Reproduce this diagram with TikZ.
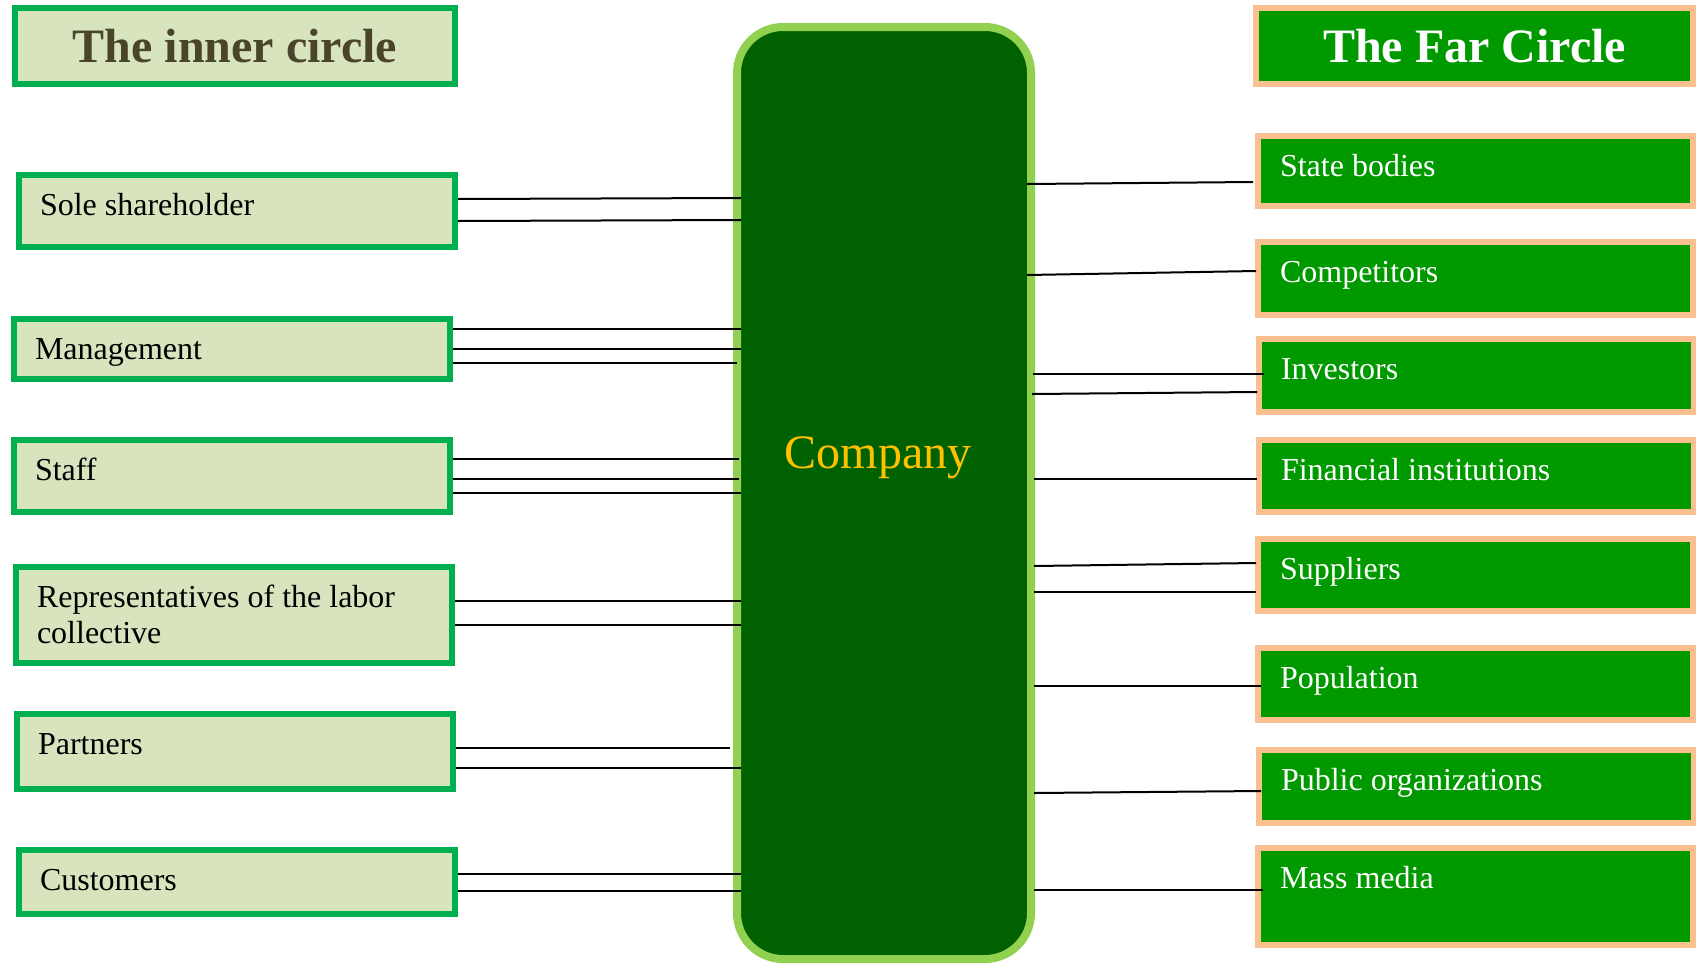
\documentclass[tikz,border=0pt]{standalone}
\usepackage{fontspec}
\setmainfont{Liberation Serif}
\usetikzlibrary{calc}

\definecolor{innerfill}{HTML}{D7E4BD}
\definecolor{innerline}{HTML}{00B050}
\definecolor{innertext}{HTML}{4A452A}
\definecolor{farfill}{HTML}{009900}
\definecolor{farline}{HTML}{FAC090}
\definecolor{coreline}{HTML}{92D050}
\definecolor{corefill}{HTML}{006100}
\definecolor{coretext}{HTML}{FFC000}

\begin{document}
\begin{tikzpicture}[x=0.5pt, y=-0.5pt,
  innerbox/.style={draw=innerline, line width=3pt, fill=innerfill, anchor=north west,
                   text width=197pt, inner xsep=10.5pt, inner ysep=0pt, align=flush left,
                   text height=20pt, text depth=#1, font=\fontsize{16}{18}\selectfont},
  farbox/.style={draw=farline, line width=3pt, fill=farfill, anchor=north west,
                 text width=195.5pt, inner xsep=11pt, inner ysep=0pt, align=flush left,
                 text height=20pt, text depth=#1, text=white,
                 font=\fontsize{16}{18}\selectfont},
  innertitle/.style={draw=innerline, line width=3pt, fill=innerfill, anchor=north west,
                     minimum width=220pt, minimum height=38pt, text=innertext,
                     font=\fontsize{24}{28}\selectfont\bfseries},
  fartitle/.style={draw=farline, line width=3pt, fill=farfill, anchor=north west,
                   minimum width=218.5pt, minimum height=38pt, text=white,
                   font=\fontsize{24}{28}\selectfont\bfseries},
  core/.style={draw=coreline, line width=4pt, fill=corefill, rounded corners=23pt,
               minimum width=147pt, minimum height=466pt, text=coretext,
               text height=17pt, text depth=42pt, font=\fontsize{24}{28}\selectfont},
  link/.style={line width=1pt, black},
]
\useasboundingbox (0,0) rectangle (1696,964);

% --- Centre ---
\node[core] (company) at (884,493) {Company\hspace*{6pt}};

% --- Left column: inner circle ---
\node[innertitle] (innerhead) at (12,5) {The inner circle};
\node[innerbox=16pt] (sole) at (16,172) {Sole shareholder};
\node[innerbox=10pt] (manage) at (11,316) {Management};
\node[innerbox=16pt] (staff) at (11,437) {Staff};
\node[innerbox=28pt] (labor) at (13,564) {Representatives of the labor\\collective};
\node[innerbox=17.5pt] (partners) at (14,711) {Partners};
\node[innerbox=12pt] (customers) at (16,847) {Customers};

% --- Right column: far circle ---
\node[fartitle] (farhead) at (1253,5) {The Far Circle};
\node[farbox=15pt] (state) at (1255,133) {State bodies};
\node[farbox=16.5pt] (rivals) at (1255,239) {Competitors};
\node[farbox=16.5pt] (investors) at (1256,336) {Investors};
\node[farbox=16pt] (finance) at (1256,437) {Financial institutions};
\node[farbox=16pt] (suppliers) at (1255,536) {Suppliers};
\node[farbox=16pt] (people) at (1255,645) {Population};
\node[farbox=16.5pt] (publicorg) at (1256,747) {Public organizations};
\node[farbox=28.5pt] (media) at (1255,845) {Mass media};

% --- Left links ---
\draw[link] ($(sole.east)+(0,-12)$) -- ($(company.west |- sole.east)+(8,-13)$);
\draw[link] ($(sole.east)+(0,10)$) -- ($(company.west |- sole.east)+(8,9)$);
\draw[link] ($(manage.east)+(0,-20)$) -- ($(company.west |- manage.east)+(8,-20)$);
\draw[link] ($(manage.east)+(0,0)$) -- ($(company.west |- manage.east)+(8,0)$);
\draw[link] ($(manage.east)+(0,14)$) -- ($(company.west |- manage.east)+(4,14)$);
\draw[link] ($(staff.east)+(0,-17)$) -- ($(company.west |- staff.east)+(6,-17)$);
\draw[link] ($(staff.east)+(0,3)$) -- ($(company.west |- staff.east)+(6,3)$);
\draw[link] ($(staff.east)+(0,17)$) -- ($(company.west |- staff.east)+(8,17)$);
\draw[link] ($(labor.east)+(0,-14)$) -- ($(company.west |- labor.east)+(8,-14)$);
\draw[link] ($(labor.east)+(0,10)$) -- ($(company.west |- labor.east)+(8,10)$);
\draw[link] ($(partners.east)+(0,-3.5)$) -- ($(company.west |- partners.east)+(-3,-3.5)$);
\draw[link] ($(partners.east)+(0,16.5)$) -- ($(company.west |- partners.east)+(8,16.5)$);
\draw[link] ($(customers.east)+(0,-8)$) -- ($(company.west |- customers.east)+(8,-8)$);
\draw[link] ($(customers.east)+(0,9)$) -- ($(company.west |- customers.east)+(8,9)$);

% --- Right links ---
\draw[link] ($(company.east |- state.west)+(-8,13)$) -- ($(state.west)+(-2,11)$);
\draw[link] ($(company.east |- rivals.west)+(-8,-3.5)$) -- ($(rivals.west)+(1,-7.5)$);
\draw[link] ($(company.east |- investors.west)+(-2,-1.5)$) -- ($(investors.west)+(8,-1.5)$);
\draw[link] ($(company.east |- investors.west)+(-3,18.5)$) -- ($(investors.west)+(1,16.5)$);
\draw[link] ($(company.east |- finance.west)+(-1,3)$) -- ($(finance.west)+(1,3)$);
\draw[link] ($(company.east |- suppliers.west)+(-1,-9)$) -- ($(suppliers.west)+(1,-12)$);
\draw[link] ($(company.east |- suppliers.west)+(-1,17)$) -- ($(suppliers.west)+(1,17)$);
\draw[link] ($(company.east |- people.west)+(-1,2)$) -- ($(people.west)+(6,2)$);
\draw[link] ($(company.east |- publicorg.west)+(-1,6.5)$) -- ($(publicorg.west)+(5,4.5)$);
\draw[link] ($(company.east |- media.west)+(-1,-6.5)$) -- ($(media.west)+(8,-6.5)$);

\end{tikzpicture}
\end{document}
